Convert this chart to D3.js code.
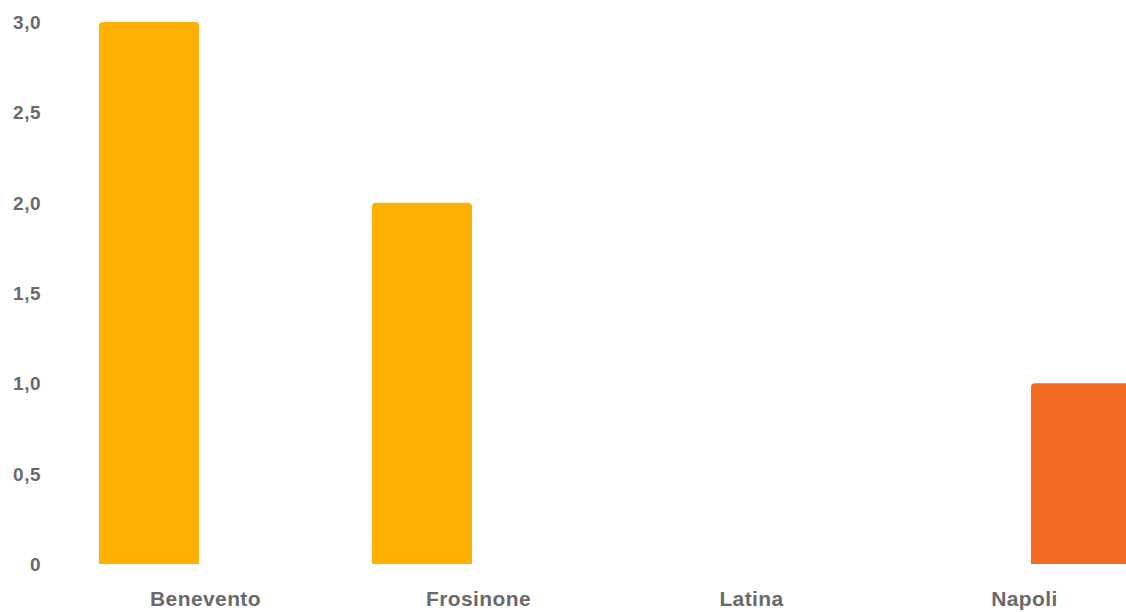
<!DOCTYPE html>
<html>
<head>
<meta charset="utf-8">
<script src="https://cdn.jsdelivr.net/npm/d3@7"></script>
<style>
  html, body { margin: 0; padding: 0; background: #fff; overflow: hidden; }
  svg { display: block; }
  .tick-label { font-family: "Liberation Sans", Arial, sans-serif; font-weight: bold; fill: #6a6a6a; }
</style>
</head>
<body>
<svg id="chart" width="1126" height="612"></svg>
<script>
// Categories (provinces) and the two series drawn side by side in each group
const categories = ["Benevento", "Frosinone", "Latina", "Napoli"];
const seriesNames = ["serie1", "serie2"];
const serie1 = [3, 2, 0, 0];
const serie2 = [0, 0, 0, 1];
const seriesColors = ["#FFB000", "#F26B21"];
const yTicks = [0, 0.5, 1, 1.5, 2, 2.5, 3];

const svg = d3.select("#chart");

const y = d3.scaleLinear().domain([0, 3]).range([564, 22]);

const x0 = d3.scaleBand()
  .domain(categories)
  .range([69, 1161])
  .paddingInner(0.22)
  .paddingOuter(0.11);

const x1 = d3.scaleBand()
  .domain(seriesNames)
  .range([0, x0.bandwidth()])
  .paddingInner(0.115);

const rows = categories.map((c, i) => ({
  cat: c,
  values: [
    { key: "serie1", v: serie1[i], color: seriesColors[0] },
    { key: "serie2", v: serie2[i], color: seriesColors[1] }
  ]
}));

// Bar with softly rounded top corners
function barPath(x, yTop, w, yBase, r) {
  const h = yBase - yTop;
  if (h <= 0) return "";
  r = Math.min(r, h, w / 2);
  return `M${x},${yBase}V${yTop + r}Q${x},${yTop} ${x + r},${yTop}` +
         `H${x + w - r}Q${x + w},${yTop} ${x + w},${yTop + r}V${yBase}Z`;
}

const groups = svg.append("g").selectAll("g")
  .data(rows).join("g")
  .attr("transform", d => `translate(${x0(d.cat)},0)`);

groups.selectAll("path")
  .data(d => d.values).join("path")
  .attr("d", d => barPath(x1(d.key), y(d.v), x1.bandwidth(), y(0), 4))
  .attr("fill", d => d.color);

// Y axis labels (Italian decimal comma)
const fmt = v => v === 0 ? "0" : d3.format(".1f")(v).replace(".", ",");
const yAxis = d3.axisLeft(y).tickValues(yTicks).tickFormat(fmt).tickSize(0).tickPadding(0);
const gy = svg.append("g").attr("transform", "translate(41,0)").call(yAxis);
gy.select(".domain").remove();
gy.selectAll("text").attr("class", "tick-label").attr("font-size", 19)
  .attr("letter-spacing", 0.5).attr("dy", "0.35em");

// X axis labels
const xAxis = d3.axisBottom(x0).tickSize(0).tickPadding(0);
const gx = svg.append("g").attr("transform", "translate(0,590)").call(xAxis);
gx.select(".domain").remove();
gx.selectAll("text").attr("class", "tick-label").attr("font-size", 21)
  .attr("letter-spacing", 0.4).attr("dy", "0.75em");
</script>
</body>
</html>
